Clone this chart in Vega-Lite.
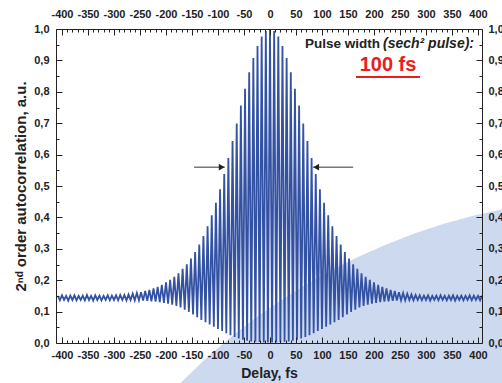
{
 "$schema": "https://vega.github.io/schema/vega-lite/v6.json",
 "width": 426, "height": 314,
 "autosize": {"type": "none"},
 "padding": {"left": 56, "top": 29, "right": 20, "bottom": 40},
 "background": "white",
 "config": {"view": {"stroke": null}, "font": "Liberation Sans"},
 "datasets": {
  "one": [{}],
  "trace": [
   {"t":-408,"v":0.150},{"t":-404,"v":0.136},{"t":-400,"v":0.152},{"t":-396,"v":0.137},{"t":-392,"v":0.150},{"t":-388,"v":0.135},{"t":-384,"v":0.151},{"t":-380,"v":0.137},{"t":-376,"v":0.152},{"t":-372,"v":0.136},{"t":-368,"v":0.150},{"t":-364,"v":0.137},{"t":-360,"v":0.151},{"t":-356,"v":0.136},{"t":-352,"v":0.153},{"t":-348,"v":0.137},{"t":-344,"v":0.150},{"t":-340,"v":0.135},{"t":-336,"v":0.152},{"t":-332,"v":0.137},{"t":-328,"v":0.151},{"t":-324,"v":0.136},{"t":-320,"v":0.150},{"t":-316,"v":0.137},{"t":-312,"v":0.152},{"t":-308,"v":0.136},{"t":-304,"v":0.151},{"t":-300,"v":0.137},{"t":-296,"v":0.152},{"t":-292,"v":0.136},{"t":-288,"v":0.153},{"t":-284,"v":0.137},
   {"t":-280,"v":0.153},{"t":-276,"v":0.136},{"t":-272,"v":0.155},{"t":-268,"v":0.137},{"t":-264,"v":0.157},{"t":-260,"v":0.136},{"t":-256,"v":0.159},{"t":-252,"v":0.136},{"t":-248,"v":0.162},{"t":-244,"v":0.135},{"t":-240,"v":0.166},{"t":-236,"v":0.134},{"t":-232,"v":0.169},{"t":-228,"v":0.133},{"t":-224,"v":0.174},{"t":-220,"v":0.132},{"t":-216,"v":0.179},{"t":-212,"v":0.130},{"t":-208,"v":0.185},{"t":-204,"v":0.128},{"t":-200,"v":0.193},{"t":-196,"v":0.125},{"t":-192,"v":0.201},{"t":-188,"v":0.122},{"t":-184,"v":0.211},{"t":-180,"v":0.118},{"t":-176,"v":0.222},{"t":-172,"v":0.113},{"t":-168,"v":0.236},{"t":-164,"v":0.106},{"t":-160,"v":0.251},{"t":-156,"v":0.099},{"t":-152,"v":0.269},{"t":-148,"v":0.091},{"t":-144,"v":0.290},{"t":-140,"v":0.082},{"t":-136,"v":0.314},{"t":-132,"v":0.073},{"t":-128,"v":0.341},{"t":-124,"v":0.066},{"t":-120,"v":0.372},{"t":-116,"v":0.059},{"t":-112,"v":0.407},{"t":-108,"v":0.052},{"t":-104,"v":0.447},{"t":-100,"v":0.045},{"t":-96,"v":0.490},{"t":-92,"v":0.038},{"t":-88,"v":0.538},{"t":-84,"v":0.031},{"t":-80,"v":0.589},{"t":-76,"v":0.025},{"t":-72,"v":0.643},{"t":-68,"v":0.019},{"t":-64,"v":0.699},{"t":-60,"v":0.014},{"t":-56,"v":0.756},{"t":-52,"v":0.010},{"t":-48,"v":0.810},{"t":-44,"v":0.007},{"t":-40,"v":0.862},{"t":-36,"v":0.005},{"t":-32,"v":0.908},{"t":-28,"v":0.004},{"t":-24,"v":0.946},{"t":-20,"v":0.003},{"t":-16,"v":0.976},{"t":-12,"v":0.002},{"t":-8,"v":0.994},{"t":-4,"v":0.002},
   {"t":0,"v":1.000},
   {"t":4,"v":0.002},{"t":8,"v":0.994},{"t":12,"v":0.002},{"t":16,"v":0.976},{"t":20,"v":0.003},{"t":24,"v":0.946},{"t":28,"v":0.004},{"t":32,"v":0.908},{"t":36,"v":0.005},{"t":40,"v":0.862},{"t":44,"v":0.007},{"t":48,"v":0.810},{"t":52,"v":0.010},{"t":56,"v":0.756},{"t":60,"v":0.014},{"t":64,"v":0.699},{"t":68,"v":0.019},{"t":72,"v":0.643},{"t":76,"v":0.025},{"t":80,"v":0.589},{"t":84,"v":0.031},{"t":88,"v":0.538},{"t":92,"v":0.038},{"t":96,"v":0.490},{"t":100,"v":0.045},{"t":104,"v":0.447},{"t":108,"v":0.052},{"t":112,"v":0.407},{"t":116,"v":0.059},{"t":120,"v":0.372},{"t":124,"v":0.066},{"t":128,"v":0.341},{"t":132,"v":0.073},{"t":136,"v":0.314},{"t":140,"v":0.082},{"t":144,"v":0.290},{"t":148,"v":0.091},{"t":152,"v":0.269},{"t":156,"v":0.099},{"t":160,"v":0.251},{"t":164,"v":0.106},{"t":168,"v":0.236},{"t":172,"v":0.113},{"t":176,"v":0.222},{"t":180,"v":0.118},{"t":184,"v":0.211},{"t":188,"v":0.122},{"t":192,"v":0.201},{"t":196,"v":0.125},{"t":200,"v":0.193},{"t":204,"v":0.128},{"t":208,"v":0.185},{"t":212,"v":0.130},{"t":216,"v":0.179},{"t":220,"v":0.132},{"t":224,"v":0.174},{"t":228,"v":0.133},{"t":232,"v":0.169},{"t":236,"v":0.134},{"t":240,"v":0.166},{"t":244,"v":0.135},{"t":248,"v":0.162},{"t":252,"v":0.136},{"t":256,"v":0.159},{"t":260,"v":0.136},{"t":264,"v":0.157},{"t":268,"v":0.137},{"t":272,"v":0.155},{"t":276,"v":0.136},{"t":280,"v":0.153},
   {"t":284,"v":0.137},{"t":288,"v":0.152},{"t":292,"v":0.136},{"t":296,"v":0.151},{"t":300,"v":0.137},{"t":304,"v":0.152},{"t":308,"v":0.135},{"t":312,"v":0.150},{"t":316,"v":0.137},{"t":320,"v":0.151},{"t":324,"v":0.136},{"t":328,"v":0.152},{"t":332,"v":0.137},{"t":336,"v":0.150},{"t":340,"v":0.136},{"t":344,"v":0.151},{"t":348,"v":0.137},{"t":352,"v":0.152},{"t":356,"v":0.135},{"t":360,"v":0.150},{"t":364,"v":0.137},{"t":368,"v":0.151},{"t":372,"v":0.136},{"t":376,"v":0.150},{"t":380,"v":0.137},{"t":384,"v":0.152},{"t":388,"v":0.136},{"t":392,"v":0.151},{"t":396,"v":0.137},{"t":400,"v":0.150},{"t":404,"v":0.136},{"t":408,"v":0.151}
  ],
  "arrows": [
   {"x1": -146, "x2": -87, "y": 0.56, "side": "L"},
   {"x1": 160, "x2": 83, "y": 0.56, "side": "R"}
  ]
 },
 "layer": [
  {
   "data": {"name": "one"},
   "mark": {"type": "point", "filled": true, "shape": "circle", "size": 1557500, "color": "#cdd9ef", "opacity": 1, "strokeWidth": 0, "clip": false},
   "encoding": {
    "x": {"datum": 682.7, "type": "quantitative", "scale": {"domain": [-411.5, 407.7], "nice": false, "zero": false}, "axis": null},
    "y": {"datum": -1.522, "type": "quantitative", "scale": {"domain": [0, 1], "nice": false, "zero": false}, "axis": null}
   }
  },
  {
   "data": {"name": "trace"},
   "mark": {"type": "line", "color": "#3352a4", "strokeWidth": 1.8, "clip": true},
   "encoding": {
    "x": {"field": "t", "type": "quantitative", "scale": {"domain": [-411.5, 407.7], "nice": false, "zero": false},
     "axis": {"orient": "bottom", "values": [-400,-390,-380,-370,-360,-350,-340,-330,-320,-310,-300,-290,-280,-270,-260,-250,-240,-230,-220,-210,-200,-190,-180,-170,-160,-150,-140,-130,-120,-110,-100,-90,-80,-70,-60,-50,-40,-30,-20,-10,0,10,20,30,40,50,60,70,80,90,100,110,120,130,140,150,160,170,180,190,200,210,220,230,240,250,260,270,280,290,300,310,320,330,340,350,360,370,380,390,400],
      "labelExpr": "datum.value % 50 === 0 ? '' + datum.value : ''",
      "tickSize": {"condition": {"test": "datum.value % 50 === 0", "value": -6}, "value": -3},
      "labelPadding": 12, "labelOverlap": false, "labelFlush": false, "labelFontSize": 11, "labelFontWeight": "bold", "labelColor": "#222",
      "grid": false, "zindex": 1, "domainColor": "#222", "tickColor": "#222",
      "title": "Delay, fs", "titleFontSize": 14, "titleFontWeight": "bold", "titleColor": "#222", "titlePadding": 3}},
    "y": {"field": "v", "type": "quantitative", "scale": {"domain": [0, 1], "nice": false, "zero": false},
     "axis": {"orient": "left", "values": [0,0.05,0.1,0.15,0.2,0.25,0.3,0.35,0.4,0.45,0.5,0.55,0.6,0.65,0.7,0.75,0.8,0.85,0.9,0.95,1],
      "labelExpr": "abs(datum.value*10 - round(datum.value*10)) < 0.001 ? replace(format(datum.value, '.1f'), '.', ',') : ''",
      "tickSize": {"condition": {"test": "abs(datum.value*10 - round(datum.value*10)) < 0.001", "value": -6}, "value": -3},
      "labelPadding": 13, "labelOverlap": false, "labelFlush": false, "labelFontSize": 11, "labelFontWeight": "bold", "labelColor": "#222",
      "grid": false, "zindex": 1, "domainColor": "#222", "tickColor": "#222",
      "title": "2ⁿᵈ order autocorrelation, a.u.", "titleFontSize": 15, "titleFontWeight": "bold", "titleColor": "#222", "titlePadding": 5}}
   }
  },
  {
   "data": {"name": "arrows"},
   "mark": {"type": "rule", "color": "#333", "strokeWidth": 1},
   "encoding": {
    "x": {"field": "x1", "type": "quantitative", "scale": {"domain": [-411.5, 407.7], "nice": false, "zero": false},
     "axis": {"orient": "top", "values": [-400,-390,-380,-370,-360,-350,-340,-330,-320,-310,-300,-290,-280,-270,-260,-250,-240,-230,-220,-210,-200,-190,-180,-170,-160,-150,-140,-130,-120,-110,-100,-90,-80,-70,-60,-50,-40,-30,-20,-10,0,10,20,30,40,50,60,70,80,90,100,110,120,130,140,150,160,170,180,190,200,210,220,230,240,250,260,270,280,290,300,310,320,330,340,350,360,370,380,390,400],
      "labelExpr": "datum.value % 50 === 0 ? '' + datum.value : ''",
      "tickSize": {"condition": {"test": "datum.value % 50 === 0", "value": -6}, "value": -3},
      "labelPadding": 16, "labelOverlap": false, "labelFlush": false, "labelFontSize": 11, "labelFontWeight": "bold", "labelColor": "#222",
      "grid": false, "zindex": 1, "domainColor": "#222", "tickColor": "#222", "title": null}},
    "x2": {"field": "x2"},
    "y": {"field": "y", "type": "quantitative", "scale": {"domain": [0, 1], "nice": false, "zero": false},
     "axis": {"orient": "right", "values": [0,0.05,0.1,0.15,0.2,0.25,0.3,0.35,0.4,0.45,0.5,0.55,0.6,0.65,0.7,0.75,0.8,0.85,0.9,0.95,1],
      "labelExpr": "abs(datum.value*10 - round(datum.value*10)) < 0.001 ? replace(format(datum.value, '.1f'), '.', ',') : ''",
      "tickSize": {"condition": {"test": "abs(datum.value*10 - round(datum.value*10)) < 0.001", "value": -6}, "value": -3},
      "labelPadding": 12, "labelOverlap": false, "labelFlush": false, "labelFontSize": 11, "labelFontWeight": "bold", "labelColor": "#222",
      "grid": false, "zindex": 1, "domainColor": "#222", "tickColor": "#222", "title": null}}
   }
  },
  {
   "data": {"name": "arrows"},
   "transform": [{"filter": "datum.side === 'L'"}],
   "mark": {"type": "point", "filled": true, "shape": "triangle-right", "size": 45, "color": "#222", "opacity": 1, "xOffset": -3},
   "encoding": {
    "x": {"field": "x2", "type": "quantitative", "scale": {"domain": [-411.5, 407.7], "nice": false, "zero": false}, "axis": null},
    "y": {"field": "y", "type": "quantitative", "scale": {"domain": [0, 1], "nice": false, "zero": false}, "axis": null}
   }
  },
  {
   "data": {"name": "arrows"},
   "transform": [{"filter": "datum.side === 'R'"}],
   "mark": {"type": "point", "filled": true, "shape": "triangle-left", "size": 45, "color": "#222", "opacity": 1, "xOffset": 3},
   "encoding": {
    "x": {"field": "x2", "type": "quantitative", "scale": {"domain": [-411.5, 407.7], "nice": false, "zero": false}, "axis": null},
    "y": {"field": "y", "type": "quantitative", "scale": {"domain": [0, 1], "nice": false, "zero": false}, "axis": null}
   }
  },
  {
   "data": {"name": "one"},
   "mark": {"type": "text", "text": "Pulse width", "align": "left", "baseline": "middle", "fontSize": 13.5, "fontWeight": "bold", "color": "#222"},
   "encoding": {
    "x": {"datum": 67.3, "type": "quantitative", "scale": {"domain": [-411.5, 407.7], "nice": false, "zero": false}, "axis": null},
    "y": {"datum": 0.952, "type": "quantitative", "scale": {"domain": [0, 1], "nice": false, "zero": false}, "axis": null}
   }
  },
  {
   "data": {"name": "one"},
   "mark": {"type": "text", "text": "(sech² pulse):", "align": "left", "baseline": "middle", "fontSize": 14, "fontWeight": "bold", "fontStyle": "italic", "color": "#222"},
   "encoding": {
    "x": {"datum": 217.3, "type": "quantitative", "scale": {"domain": [-411.5, 407.7], "nice": false, "zero": false}, "axis": null},
    "y": {"datum": 0.952, "type": "quantitative", "scale": {"domain": [0, 1], "nice": false, "zero": false}, "axis": null}
   }
  },
  {
   "data": {"name": "one"},
   "mark": {"type": "text", "text": "100 fs", "align": "center", "baseline": "middle", "fontSize": 20, "fontWeight": "bold", "color": "#e8201c"},
   "encoding": {
    "x": {"datum": 227, "type": "quantitative", "scale": {"domain": [-411.5, 407.7], "nice": false, "zero": false}, "axis": null},
    "y": {"datum": 0.885, "type": "quantitative", "scale": {"domain": [0, 1], "nice": false, "zero": false}, "axis": null}
   }
  },
  {
   "data": {"name": "one"},
   "mark": {"type": "rule", "color": "#e8201c", "strokeWidth": 2},
   "encoding": {
    "x": {"datum": 165.4, "type": "quantitative", "scale": {"domain": [-411.5, 407.7], "nice": false, "zero": false}, "axis": null},
    "x2": {"datum": 288.5},
    "y": {"datum": 0.847, "type": "quantitative", "scale": {"domain": [0, 1], "nice": false, "zero": false}, "axis": null}
   }
  }
 ],
 "resolve": {"axis": {"x": "independent", "y": "independent"}}
}
